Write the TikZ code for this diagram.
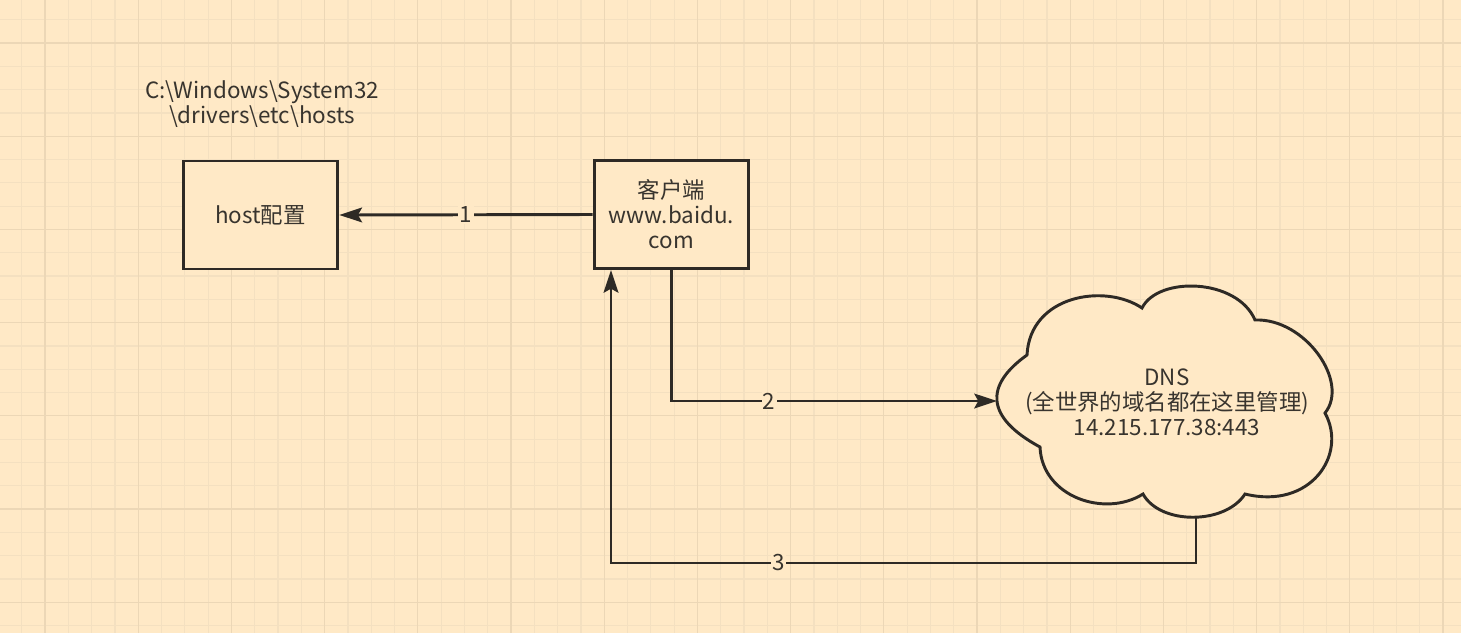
\documentclass[tikz,border=0pt]{standalone}
\usepackage{fontspec}
\setmainfont{Noto Sans CJK SC}
\usetikzlibrary{arrows.meta}
\definecolor{fondpeche}{RGB}{255,233,198}
\definecolor{grillefine}{RGB}{244,224,192}
\definecolor{grillegrosse}{RGB}{236,215,182}
\definecolor{trait}{RGB}{46,42,37}
\definecolor{encre}{RGB}{56,52,46}

\begin{document}
\begin{tikzpicture}[x=0.75pt, y=-0.75pt]
\tikzset{boite/.style={draw=trait, line width=2.2pt, fill=fondpeche, minimum width=116pt, minimum height=81pt, align=center, text=encre, font={\fontsize{16.8}{18.75}\selectfont}},
  texte/.style={align=center, text=encre, font={\fontsize{16.8}{18.75}\selectfont}},
  fleche/.style={draw=trait, line width=2.2pt, -{Stealth[length=17pt, width=11pt, inset=3pt]}},
  etiq/.style={fill=fondpeche, inner sep=1pt, text=encre, font={\fontsize{16.8}{18.75}\selectfont}}}
\useasboundingbox (0,0) rectangle (1461,633);
\fill[fondpeche] (0,0) rectangle (1461,633);
\foreach \k in {0,...,63} \draw[grillefine, line width=0.9pt] ({-1.6+23.3*\k},0) -- ++(0,633);
\foreach \k in {0,...,28} \draw[grillefine, line width=0.9pt] (0,{-3.6+23.3*\k}) -- ++(1461,0);
\foreach \k in {0,...,15} \draw[grillegrosse, line width=1pt] ({45+93.2*\k},0) -- ++(0,633);
\foreach \k in {0,...,6} \draw[grillegrosse, line width=1pt] (0,{43+93.2*\k}) -- ++(1461,0);
\draw[trait, line width=2.2pt, fill=fondpeche] (1040,447) .. controls (984.6,417) and (985,385) .. (1027,355)
  .. controls (1030,295) and (1105,283) .. (1142,308)
  .. controls (1158,276) and (1237,278) .. (1255,320)
  .. controls (1305,318) and (1350,382) .. (1325,413)
  .. controls (1348,455) and (1310,510) .. (1245,494)
  .. controls (1225,525) and (1160,525) .. (1143,494)
  .. controls (1105,518) and (1042,497) .. cycle;
\coordinate (dnsG) at (997,401);
\coordinate (dnsB) at (1196,517);
\node[texte] (P) at (262,104) {C:\textbackslash Windows\textbackslash System32\\\textbackslash drivers\textbackslash etc\textbackslash hosts};
\node[boite] (H) at (260.5,215) {host配置};
\node[boite] (C) at (671.5,214.5) {客户端\\www.baidu.\\com};
\node[texte] (D) at (1167,402) {DNS\\(全世界的域名都在这里管理)\\14.215.177.38:443};
\coordinate (coinB) at (1196,563);
\coordinate (coinG) at (611,563);
\draw[fleche] (C.west) -- node[etiq] {1} (H.east);
\draw[fleche] (C.south) |- node[etiq, pos=0.65] {2} (dnsG);
\draw[fleche] (dnsB) -- (coinB) -- node[etiq, pos=0.713] {3} (coinG) -- (coinG |- C.south);
\end{tikzpicture}
\end{document}
